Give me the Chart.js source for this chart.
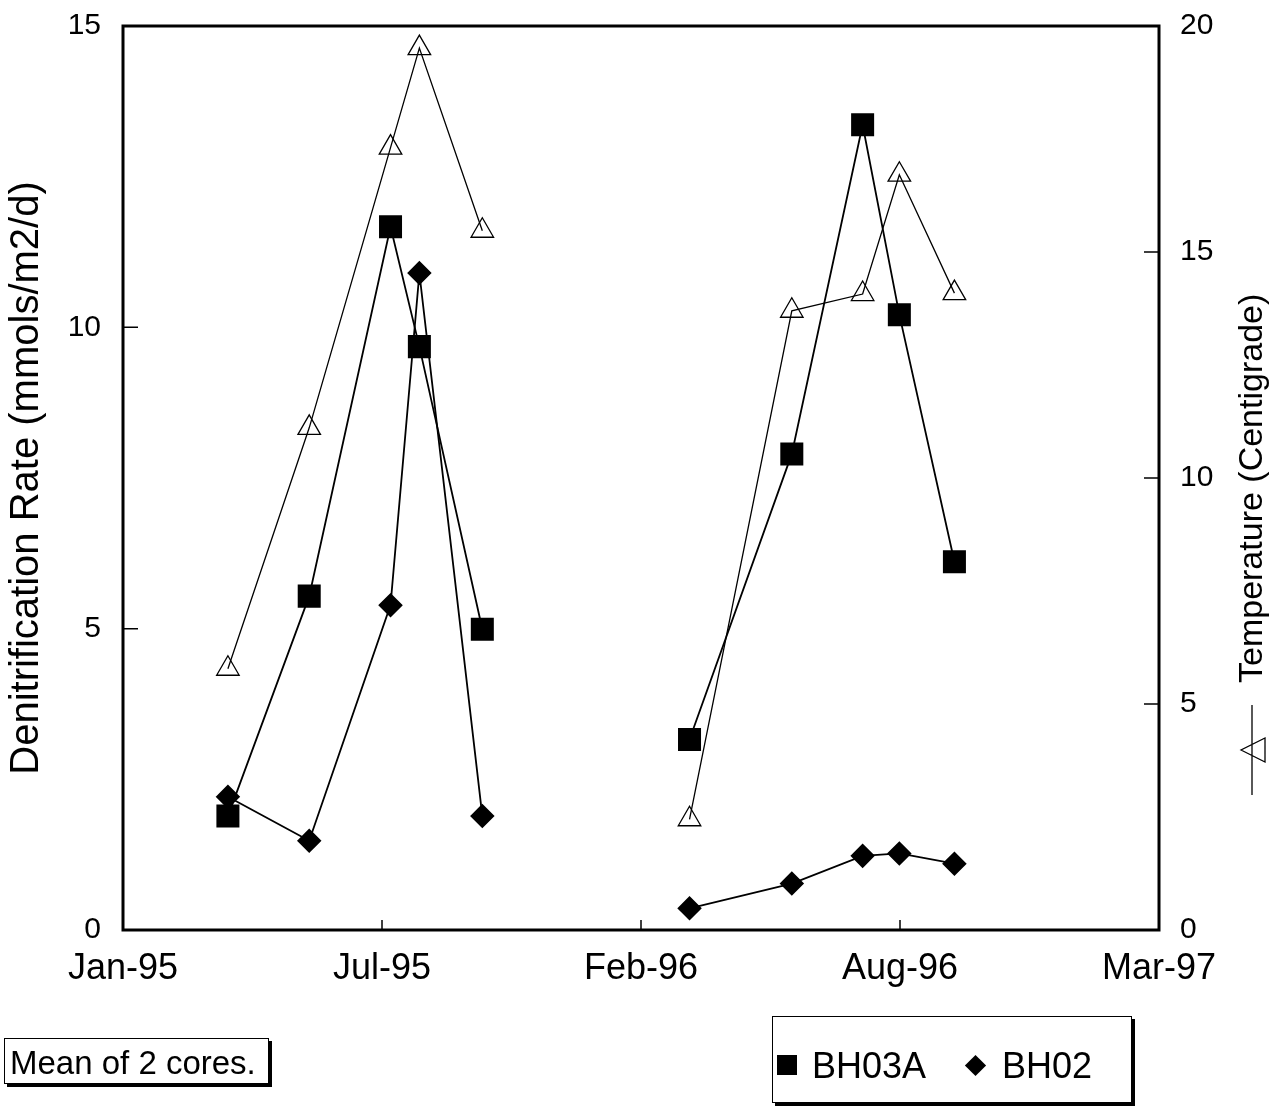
<!DOCTYPE html>
<html>
<head>
<meta charset="utf-8">
<script src="https://cdn.jsdelivr.net/npm/chart.js@4.4.1/dist/chart.umd.min.js"></script>
<style>
  body { margin: 0; background: #fff; }
  #wrap { position: relative; width: 1279px; height: 1109px; font-family: 'Liberation Sans', Arial, sans-serif; }
  #chart { position: absolute; left: 0; top: 0; }
  .box { position: absolute; background: #fff; border: 1.5px solid #000; box-shadow: 3px 3px 0 #000; color: #000; }
  #note { left: 4px; top: 1038px; width: 258px; height: 40px; padding: 4px 0 0 5px; font-size: 33px; line-height: 40px; white-space: nowrap; }
  #legend { left: 772px; top: 1016px; width: 358px; height: 85px; font-size: 36px; }
  #legend span { position: absolute; line-height: 36px; white-space: nowrap; }
  #legend i { position: absolute; background: #000; }
</style>
</head>
<body>
<div id="wrap">
  <canvas id="chart" width="1279" height="1109"></canvas>
  <div id="note" class="box">Mean of 2 cores.</div>
  <div id="legend" class="box"></div>
</div>
<script>
// x positions are days since 1 Jan 1995
const xTickDays = [0, 197.5, 395, 592.5, 790];
const xTickLabels = ['Jan-95', 'Jul-95', 'Feb-96', 'Aug-96', 'Mar-97'];
const sampleDays = [80, 142, 204, 226, 274, 432, 510, 564, 592, 634];

const seriesNames = ['BH03A', 'BH02'];
const bh03a = [1.89, 5.54, 11.67, 9.68, 4.99, 3.16, 7.90, 13.36, 10.21, 6.11];
const bh02 = [2.21, 1.48, 5.39, 10.90, 1.89, 0.36, 0.77, 1.23, 1.27, 1.10];
const temperature = [5.78, 11.11, 17.31, 19.51, 15.47, 2.45, 13.70, 14.07, 16.71, 14.09];

const rateTicks = [0, 5, 10, 15];
const tempTicks = [0, 5, 10, 15, 20];
const rateTitle = 'Denitrification Rate (mmols/m2/d)';
const tempTitle = 'Temperature (Centigrade)';
const gapAfter = 4; // no line between the 1995 and 1996 surveys

const FONT = "'Liberation Sans', Arial, sans-serif";
Chart.defaults.font.family = FONT;
Chart.defaults.color = '#000';

const toPoints = vals => vals.map((v, i) => ({ x: sampleDays[i], y: v }));
const gapSegment = {
  borderColor: c => c.p0DataIndex === gapAfter ? 'rgba(0,0,0,0)' : '#000'
};

// fixed axis sizes so the plot box sits where the original one does
const fixWidth = w => axis => {
  axis.width = w;
  axis.paddingTop = 0;
  axis.paddingBottom = 0;
};

// frame, inward tick marks and the right-hand title with its symbol
const framePlugin = {
  id: 'frame',
  beforeDatasetsDraw(chart) {
    const { ctx, chartArea: a, scales } = chart;
    ctx.save();
    ctx.strokeStyle = '#000';
    ctx.lineWidth = 3;
    ctx.strokeRect(a.left, a.top, a.right - a.left, a.bottom - a.top);
    ctx.lineWidth = 1.5;
    ctx.beginPath();
    rateTicks.slice(1, -1).forEach(v => {
      const y = scales.yRate.getPixelForValue(v);
      ctx.moveTo(a.left, y); ctx.lineTo(a.left + 15, y);
    });
    tempTicks.slice(1, -1).forEach(v => {
      const y = scales.yTemp.getPixelForValue(v);
      ctx.moveTo(a.right - 15, y); ctx.lineTo(a.right, y);
    });
    xTickDays.slice(1, -1).forEach(v => {
      const x = scales.x.getPixelForValue(v);
      ctx.moveTo(x, a.bottom); ctx.lineTo(x, a.bottom - 10);
    });
    ctx.stroke();
    ctx.restore();
  },
  afterDraw(chart) {
    const { ctx, chartArea: a } = chart;
    ctx.save();
    ctx.translate(a.right + 103, 683);
    ctx.rotate(-Math.PI / 2);
    ctx.fillStyle = '#000';
    ctx.strokeStyle = '#000';
    ctx.font = '34px ' + FONT;
    ctx.textBaseline = 'alphabetic';
    ctx.textAlign = 'left';
    ctx.fillText(tempTitle, 0, 0);
    ctx.lineWidth = 1.3;
    ctx.beginPath();
    ctx.moveTo(-112, -10); ctx.lineTo(-22, -10);
    ctx.moveTo(-67, -21); ctx.lineTo(-79, 3); ctx.lineTo(-55, 3); ctx.closePath();
    ctx.stroke();
    ctx.restore();
  }
};

new Chart(document.getElementById('chart'), {
  type: 'line',
  data: {
    datasets: [
      {
        label: tempTitle,
        data: toPoints(temperature),
        yAxisID: 'yTemp',
        borderColor: '#000',
        borderWidth: 1.3,
        pointStyle: 'triangle',
        pointRadius: 13,
        pointBorderWidth: 1.3,
        pointBackgroundColor: 'rgba(0,0,0,0)',
        pointBorderColor: '#000',
        segment: gapSegment
      },
      {
        label: seriesNames[0],
        data: toPoints(bh03a),
        yAxisID: 'yRate',
        borderColor: '#000',
        borderWidth: 1.8,
        pointStyle: 'rect',
        pointRadius: 15,
        pointBackgroundColor: '#000',
        pointBorderColor: '#000',
        segment: gapSegment
      },
      {
        label: seriesNames[1],
        data: toPoints(bh02),
        yAxisID: 'yRate',
        borderColor: '#000',
        borderWidth: 1.8,
        pointStyle: 'rectRot',
        pointRadius: 11,
        pointBackgroundColor: '#000',
        pointBorderColor: '#000',
        segment: gapSegment
      }
    ]
  },
  options: {
    responsive: false,
    animation: false,
    layout: { padding: { top: 26, left: 0, right: 0, bottom: 0 } },
    plugins: {
      legend: { display: false },
      tooltip: { enabled: false }
    },
    scales: {
      x: {
        type: 'linear',
        min: 0,
        max: 790,
        afterBuildTicks: axis => { axis.ticks = xTickDays.map(v => ({ value: v })); },
        afterFit: axis => { axis.height = 179; },
        grid: { display: false, drawTicks: false },
        border: { display: false },
        ticks: {
          font: { size: 36 },
          padding: 17,
          maxRotation: 0,
          autoSkip: false,
          callback: (v, i) => xTickLabels[i]
        }
      },
      yRate: {
        position: 'left',
        min: 0,
        max: 15,
        afterBuildTicks: axis => { axis.ticks = rateTicks.map(v => ({ value: v })); },
        afterFit: fixWidth(123),
        grid: { display: false, drawTicks: false },
        border: { display: false },
        ticks: { font: { size: 30 }, padding: 22 },
        title: {
          display: true,
          text: rateTitle,
          font: { size: 40 },
          padding: { top: 3, bottom: 0 }
        }
      },
      yTemp: {
        position: 'right',
        min: 0,
        max: 20,
        afterBuildTicks: axis => { axis.ticks = tempTicks.map(v => ({ value: v })); },
        afterFit: fixWidth(120),
        grid: { display: false, drawTicks: false },
        border: { display: false },
        ticks: { font: { size: 30 }, padding: 21 }
      }
    }
  },
  plugins: [framePlugin]
});

// legend below the chart
const legend = document.getElementById('legend');
legend.innerHTML =
  '<i style="left:4px;top:38px;width:20px;height:20px"></i>' +
  '<span style="left:39px;top:31px">' + seriesNames[0] + '</span>' +
  '<i style="left:195px;top:41px;width:15px;height:15px;transform:rotate(45deg)"></i>' +
  '<span style="left:229px;top:31px">' + seriesNames[1] + '</span>';
</script>
</body>
</html>
